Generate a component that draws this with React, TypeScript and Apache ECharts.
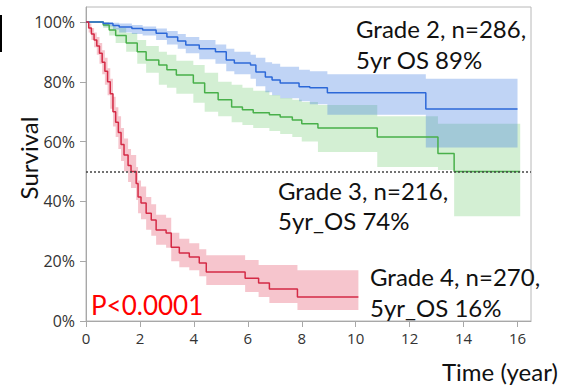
import React, { useEffect, useRef } from "react";
import * as echarts from "echarts";

const xTicks = [0, 2, 4, 6, 8, 10, 12, 14, 16];
const yTicks = [0, 0.2, 0.4, 0.6, 0.8, 1];

// Grade 2 (blue)
const g2Time = [0, 0.64, 1.0, 1.23, 1.7, 2.1, 2.6, 3.0, 3.4, 3.7, 4.2, 4.8, 5.2, 5.5, 6.1, 6.3, 6.65, 6.9, 7.2, 7.9, 8.3, 8.95, 12.6, 16.0];
const g2Surv = [1, 0.995, 0.988, 0.983, 0.978, 0.973, 0.962, 0.95, 0.936, 0.923, 0.91, 0.9, 0.873, 0.863, 0.856, 0.833, 0.816, 0.806, 0.796, 0.783, 0.78, 0.763, 0.709, 0.709];
const g2Lower = [1, 0.985, 0.975, 0.965, 0.96, 0.955, 0.94, 0.925, 0.91, 0.895, 0.875, 0.86, 0.835, 0.825, 0.81, 0.785, 0.765, 0.755, 0.745, 0.735, 0.725, 0.69, 0.58, 0.58];
const g2Upper = [1, 1, 0.997, 0.995, 0.99, 0.985, 0.978, 0.97, 0.96, 0.95, 0.94, 0.925, 0.91, 0.9, 0.89, 0.88, 0.865, 0.86, 0.85, 0.84, 0.835, 0.825, 0.81, 0.81];

// Grade 3 (green)
const g3Time = [0, 0.64, 0.86, 1.1, 1.49, 1.9, 2.23, 2.7, 3.0, 3.35, 3.98, 4.4, 4.9, 5.4, 5.8, 6.2, 6.8, 7.2, 7.65, 8.0, 8.6, 10.8, 13.05, 13.65, 16.1];
const g3Surv = [1, 0.99, 0.973, 0.955, 0.93, 0.9, 0.873, 0.856, 0.84, 0.823, 0.796, 0.763, 0.74, 0.716, 0.706, 0.696, 0.69, 0.682, 0.672, 0.66, 0.645, 0.615, 0.56, 0.5, 0.5];
const g3Lower = [1, 0.98, 0.955, 0.93, 0.9, 0.86, 0.83, 0.79, 0.78, 0.76, 0.73, 0.7, 0.685, 0.665, 0.655, 0.645, 0.635, 0.625, 0.615, 0.6, 0.565, 0.515, 0.505, 0.35, 0.35];
const g3Upper = [1, 1, 0.99, 0.98, 0.963, 0.94, 0.92, 0.9, 0.89, 0.87, 0.856, 0.83, 0.8, 0.79, 0.78, 0.77, 0.756, 0.746, 0.74, 0.732, 0.722, 0.685, 0.66, 0.66, 0.66];

// Grade 4 (red)
const g4Time = [0, 0.1, 0.2, 0.3, 0.4, 0.5, 0.6, 0.7, 0.8, 0.9, 1.0, 1.1, 1.2, 1.3, 1.41, 1.56, 1.67, 1.86, 1.93, 2.04, 2.23, 2.42, 2.6, 2.97, 3.16, 3.46, 3.83, 4.2, 4.46, 5.9, 6.4, 6.8, 7.84, 10.1];
const g4Surv = [1, 0.98, 0.96, 0.94, 0.92, 0.895, 0.865, 0.835, 0.8, 0.76, 0.7, 0.665, 0.63, 0.59, 0.555, 0.52, 0.5, 0.46, 0.415, 0.395, 0.36, 0.338, 0.304, 0.294, 0.247, 0.227, 0.214, 0.194, 0.164, 0.143, 0.127, 0.107, 0.08, 0.08];
const g4Lower = [1, 0.965, 0.94, 0.915, 0.89, 0.86, 0.825, 0.79, 0.755, 0.71, 0.65, 0.615, 0.575, 0.535, 0.5, 0.465, 0.445, 0.405, 0.36, 0.34, 0.305, 0.285, 0.255, 0.245, 0.2, 0.18, 0.17, 0.15, 0.12, 0.097, 0.08, 0.06, 0.037, 0.037];
const g4Upper = [1, 0.995, 0.98, 0.965, 0.95, 0.93, 0.905, 0.88, 0.845, 0.81, 0.75, 0.715, 0.685, 0.645, 0.61, 0.575, 0.555, 0.515, 0.47, 0.45, 0.415, 0.39, 0.355, 0.345, 0.295, 0.275, 0.26, 0.24, 0.22, 0.204, 0.187, 0.187, 0.17, 0.17];

const labelFont = "Lato, 'Open Sans', sans-serif";

// Confidence band drawn as one stepped polygon through the axis scales
function band(times: number[], lo: number[], hi: number[], color: string) {
  return {
    type: "custom",
    silent: true,
    clip: true,
    data: times.map((t, i) => [t, lo[i], hi[i]]),
    encode: { x: 0, y: [1, 2] },
    renderItem: (params: any, api: any) => {
      if (params.dataIndex !== 0) return null;
      const pts: number[][] = [];
      const n = times.length;
      for (let i = 0; i < n - 1; i++) {
        pts.push(api.coord([times[i], hi[i]]));
        pts.push(api.coord([times[i + 1], hi[i]]));
      }
      for (let i = n - 2; i >= 0; i--) {
        pts.push(api.coord([times[i + 1], lo[i]]));
        pts.push(api.coord([times[i], lo[i]]));
      }
      return {
        type: "polygon",
        shape: { points: pts },
        style: { fill: color, stroke: "none" },
      };
    },
  };
}

function curve(times: number[], surv: number[], color: string, extra: any = {}) {
  return {
    type: "line",
    step: "end",
    silent: true,
    symbol: "none",
    lineStyle: { color, width: 1.5 },
    data: times.map((t, i) => [t, surv[i]]),
    ...extra,
  };
}

function text(str: string, x: number, y: number, size: number, fill = "#111", extra: any = {}) {
  return {
    type: "text",
    x,
    y,
    ...extra,
    style: {
      text: str,
      font: `${size}px ${labelFont}`,
      fill,
      align: extra.align || "left",
      verticalAlign: "middle",
    },
  };
}

export default function App() {
  const ref = useRef<HTMLDivElement>(null);
  useEffect(() => {
    document.body.style.margin = "0";
    const chart = echarts.init(ref.current!, null, { renderer: "svg" });
    chart.setOption({
      animation: false,
      backgroundColor: "#ffffff",
      grid: {
        left: 86,
        right: 35,
        top: 7,
        bottom: 65,
        show: true,
        borderColor: "#b8b8b8",
        borderWidth: 1,
      },
      xAxis: {
        type: "value",
        min: 0,
        max: 16.5,
        interval: 2,
        splitLine: { show: false },
        axisLine: { show: true, lineStyle: { color: "#a8a8a8", width: 1 } },
        axisTick: { show: true, length: 6, customValues: xTicks, lineStyle: { color: "#a8a8a8" } },
        axisLabel: {
          customValues: xTicks,
          color: "#333",
          fontSize: 15,
          fontFamily: "'Open Sans', sans-serif",
          margin: 9,
        },
      },
      yAxis: {
        type: "value",
        min: 0,
        max: 1.05,
        interval: 0.2,
        splitLine: { show: false },
        axisLine: { show: true, lineStyle: { color: "#a8a8a8", width: 1 } },
        axisTick: { show: true, length: 6, customValues: yTicks, lineStyle: { color: "#a8a8a8" } },
        axisLabel: {
          customValues: yTicks,
          color: "#333",
          fontSize: 16,
          fontFamily: "'Open Sans', sans-serif",
          margin: 11,
          formatter: (v: number) => `${Math.round(v * 100)}%`,
        },
      },
      series: [
        band(g4Time, g4Lower, g4Upper, "rgba(220,40,70,0.27)"),
        band(g3Time, g3Lower, g3Upper, "rgba(80,190,80,0.25)"),
        band(g2Time, g2Lower, g2Upper, "rgba(65,125,225,0.33)"),
        curve(g3Time, g3Surv, "#48b04a"),
        curve(g2Time, g2Surv, "#2c68d8"),
        curve(g4Time, g4Surv, "#d42a45", {
          markLine: {
            silent: true,
            symbol: "none",
            label: { show: false },
            lineStyle: { color: "#444", type: [2, 2], width: 1.5 },
            data: [{ yAxis: 0.5 }],
          },
        }),
      ],
      graphic: [
        { type: "rect", shape: { x: 0, y: 15, width: 2, height: 37 }, style: { fill: "#000" } },
        text("Grade 2, n=286,", 356, 28, 24),
        text("5yr OS 89%", 356, 59, 24),
        text("Grade 3, n=216,", 278, 190, 24),
        text("5yr_OS 74%", 278, 220, 24),
        text("Grade 4, n=270,", 370, 276, 24),
        text("5yr_OS 16%", 370, 307, 24),
        text("P<0.0001", 91, 305, 26, "#ff0000"),
        text("Time (year)", 442, 371, 24),
        text("Survival", 28, 158, 24, "#111", { rotation: Math.PI / 2, align: "center" }),
      ],
    });
    return () => chart.dispose();
  }, []);
  return <div ref={ref} style={{ width: 566, height: 386 }} />;
}
